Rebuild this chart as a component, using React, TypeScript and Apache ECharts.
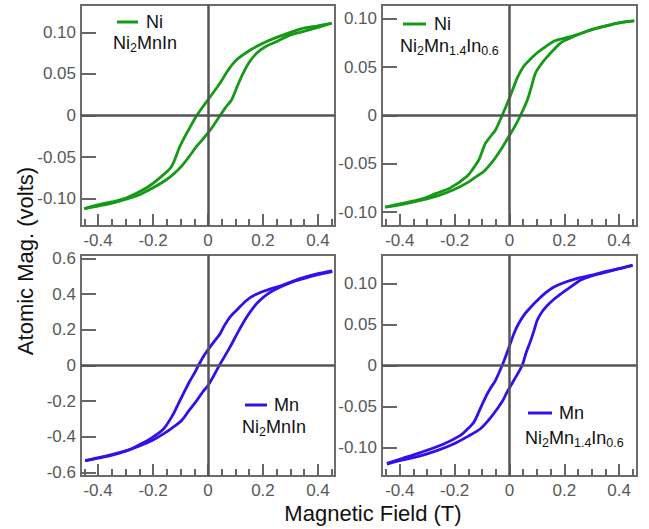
import React, { useEffect, useRef } from "react";
import * as echarts from "echarts";

// Tick values
const xTickValues = [-0.4, -0.2, 0, 0.2, 0.4];
const yTicksSmall = [-0.1, -0.05, 0, 0.05, 0.1];
const yTicksLarge = [-0.6, -0.4, -0.2, 0, 0.2, 0.4, 0.6];

// Panel 1: Ni edge, Ni2MnIn  [field (T), atomic mag (V)]
const niNi2MnInDown = [
  [-0.45, -0.112], [-0.393, -0.107], [-0.35, -0.104], [-0.296, -0.099], [-0.223, -0.087],
  [-0.168, -0.073], [-0.132, -0.061], [-0.102, -0.037], [-0.077, -0.021], [-0.06, -0.011],
  [-0.041, 0], [-0.02, 0.01], [0, 0.019], [0.02, 0.028], [0.044, 0.039], [0.07, 0.053],
  [0.104, 0.067], [0.16, 0.08], [0.213, 0.089], [0.25, 0.094], [0.335, 0.104],
  [0.40, 0.108], [0.45, 0.111],
];
const niNi2MnInUp = [
  [-0.45, -0.112], [-0.40, -0.109], [-0.356, -0.106], [-0.30, -0.101], [-0.247, -0.095],
  [-0.20, -0.087], [-0.15, -0.077], [-0.12, -0.069], [-0.096, -0.061], [-0.07, -0.05],
  [-0.041, -0.037], [-0.02, -0.029], [0, -0.021], [0.02, -0.012], [0.044, 0], [0.065, 0.01],
  [0.086, 0.019], [0.105, 0.034], [0.128, 0.051], [0.15, 0.064], [0.177, 0.075],
  [0.21, 0.083], [0.25, 0.089], [0.30, 0.097], [0.335, 0.100], [0.40, 0.106], [0.45, 0.111],
];

// Panel 2: Ni edge, Ni2Mn1.4In0.6
const niNi2Mn14Down = [
  [-0.453, -0.095], [-0.39, -0.091], [-0.325, -0.087], [-0.27, -0.081], [-0.216, -0.075],
  [-0.155, -0.063], [-0.135, -0.056], [-0.112, -0.046], [-0.088, -0.029], [-0.07, -0.022],
  [-0.051, -0.015], [-0.027, 0], [-0.003, 0.016], [0.016, 0.03], [0.03, 0.04], [0.052, 0.051],
  [0.075, 0.058], [0.101, 0.065], [0.13, 0.071], [0.162, 0.077], [0.20, 0.08], [0.26, 0.085],
  [0.30, 0.089], [0.369, 0.094], [0.40, 0.096], [0.455, 0.098],
];
const niNi2Mn14Up = [
  [-0.453, -0.095], [-0.39, -0.092], [-0.325, -0.088], [-0.26, -0.083], [-0.204, -0.077],
  [-0.15, -0.069], [-0.12, -0.063], [-0.094, -0.058], [-0.06, -0.047], [-0.033, -0.036],
  [-0.003, -0.022], [0.02, -0.011], [0.04, 0], [0.065, 0.016], [0.08, 0.03], [0.095, 0.044],
  [0.115, 0.053], [0.138, 0.061], [0.186, 0.075], [0.22, 0.08], [0.26, 0.085], [0.30, 0.089],
  [0.369, 0.094], [0.40, 0.096], [0.455, 0.098],
];

// Panel 3: Mn edge, Ni2MnIn
const mnNi2MnInDown = [
  [-0.447, -0.534], [-0.393, -0.516], [-0.296, -0.478], [-0.25, -0.445], [-0.211, -0.412],
  [-0.162, -0.356], [-0.126, -0.272], [-0.108, -0.215], [-0.09, -0.159], [-0.065, -0.084],
  [-0.05, -0.045], [-0.035, 0], [-0.015, 0.055], [0.007, 0.103], [0.025, 0.14], [0.044, 0.178],
  [0.06, 0.225], [0.08, 0.272], [0.11, 0.32], [0.141, 0.366], [0.17, 0.395], [0.213, 0.422],
  [0.27, 0.45], [0.335, 0.487], [0.40, 0.515], [0.452, 0.531],
];
const mnNi2MnInUp = [
  [-0.447, -0.534], [-0.40, -0.52], [-0.356, -0.506], [-0.30, -0.48], [-0.247, -0.45],
  [-0.20, -0.418], [-0.162, -0.384], [-0.13, -0.35], [-0.096, -0.309], [-0.07, -0.255],
  [-0.041, -0.197], [-0.02, -0.15], [0, -0.112], [0.02, -0.06], [0.041, 0], [0.06, 0.05],
  [0.08, 0.103], [0.11, 0.19], [0.141, 0.272], [0.165, 0.325], [0.189, 0.366], [0.22, 0.405],
  [0.25, 0.431], [0.30, 0.465], [0.335, 0.482], [0.40, 0.51], [0.452, 0.527],
];

// Panel 4: Mn edge, Ni2Mn1.4In0.6
const mnNi2Mn14Down = [
  [-0.447, -0.119], [-0.39, -0.113], [-0.325, -0.106], [-0.24, -0.0955], [-0.179, -0.085],
  [-0.155, -0.078], [-0.13, -0.069], [-0.11, -0.055], [-0.088, -0.039], [-0.07, -0.028],
  [-0.051, -0.018], [-0.027, 0], [-0.015, 0.01], [-0.002, 0.022], [0.016, 0.0386],
  [0.03, 0.049], [0.052, 0.061], [0.075, 0.07], [0.101, 0.079], [0.13, 0.088],
  [0.162, 0.0955], [0.20, 0.101], [0.247, 0.106], [0.30, 0.11], [0.345, 0.114],
  [0.40, 0.118], [0.449, 0.122],
];
const mnNi2Mn14Up = [
  [-0.447, -0.12], [-0.39, -0.115], [-0.325, -0.11], [-0.26, -0.103], [-0.204, -0.0955],
  [-0.15, -0.086], [-0.106, -0.077], [-0.075, -0.066], [-0.045, -0.053], [-0.025, -0.043],
  [-0.009, -0.0325], [0.016, -0.018], [0.046, 0], [0.06, 0.015], [0.077, 0.03], [0.09, 0.043],
  [0.101, 0.055], [0.12, 0.066], [0.138, 0.073], [0.16, 0.08], [0.186, 0.087], [0.22, 0.095],
  [0.26, 0.104], [0.30, 0.109], [0.345, 0.113], [0.40, 0.118], [0.449, 0.122],
];

const GREEN = "#149a14";
const BLUE = "#3210ee";
const FONT = "'Liberation Sans', Arial, Helvetica, sans-serif";
const AXIS_GRAY = "#666666";
const LABEL_GRAY = "#585858";

const panels = [
  { grid: { left: 81, top: 5, width: 254, height: 221 }, xr: 0.462, yr: 0.133, yTicks: yTicksSmall, dec: 2, color: GREEN, down: niNi2MnInDown, up: niNi2MnInUp },
  { grid: { left: 382, top: 5, width: 255, height: 221 }, xr: 0.465, yr: 0.1145, yTicks: yTicksSmall, dec: 2, color: GREEN, down: niNi2Mn14Down, up: niNi2Mn14Up },
  { grid: { left: 81, top: 255, width: 254, height: 221 }, xr: 0.462, yr: 0.62, yTicks: yTicksLarge, dec: 1, color: BLUE, down: mnNi2MnInDown, up: mnNi2MnInUp },
  { grid: { left: 382, top: 255, width: 255, height: 221 }, xr: 0.465, yr: 0.1345, yTicks: yTicksSmall, dec: 2, color: BLUE, down: mnNi2Mn14Down, up: mnNi2Mn14Up },
];

const fmt = (dec: number) => (v: number) => (Math.abs(v) < 1e-9 ? "0" : v.toFixed(dec));

const richStyles = {
  n: { fontSize: 18, fontFamily: FONT, lineHeight: 22, fill: "#111" },
  s: { fontSize: 12.5, fontFamily: FONT, lineHeight: 12.5, verticalAlign: "bottom", fill: "#111" },
};

function legendItems(lx1: number, ly: number, lx2: number, name: string, nameX: number, formula: string, fx: number, fy: number, color: string) {
  return [
    { type: "line", silent: true, shape: { x1: lx1, y1: ly, x2: lx2, y2: ly }, style: { stroke: color, lineWidth: 3 } },
    { type: "text", silent: true, x: nameX, y: ly, style: { text: name, font: `18px ${FONT}`, fill: "#111", align: "left", verticalAlign: "middle" } },
    { type: "text", silent: true, x: fx, y: fy, style: { text: formula, rich: richStyles, fill: "#111", align: "left", verticalAlign: "middle" } },
  ];
}

export default function App() {
  const ref = useRef<HTMLDivElement>(null);
  useEffect(() => {
    if (!ref.current) return;
    const chart = echarts.init(ref.current, undefined, { renderer: "svg" });
    const grids = panels.map((p) => ({
      ...p.grid,
      show: true,
      borderColor: "#6c6c6c",
      borderWidth: 2,
      backgroundColor: "transparent",
      containLabel: false,
    }));
    const xAxes = panels.map((p, i) => ({
      type: "value",
      gridIndex: i,
      position: "bottom",
      min: -p.xr,
      max: p.xr,
      axisLine: { show: false, onZero: false },
      splitLine: { show: false },
      axisTick: { show: true, inside: true, length: 12, customValues: xTickValues, lineStyle: { color: AXIS_GRAY, width: 2 } },
      minorTick: { show: true, splitNumber: 4, length: 7, lineStyle: { color: AXIS_GRAY, width: 2 } },
      axisLabel: { show: true, margin: 6, customValues: xTickValues, formatter: fmt(1), color: LABEL_GRAY, fontSize: 17, fontFamily: FONT },
    }));
    const yAxes = panels.map((p, i) => ({
      type: "value",
      gridIndex: i,
      position: "left",
      min: -p.yr,
      max: p.yr,
      axisLine: { show: false, onZero: false },
      splitLine: { show: false },
      axisTick: { show: true, inside: true, length: 15, customValues: p.yTicks, lineStyle: { color: AXIS_GRAY, width: 2 } },
      axisLabel: { show: true, margin: 5, customValues: p.yTicks, formatter: fmt(p.dec), color: LABEL_GRAY, fontSize: 17, fontFamily: FONT },
    }));
    const series: any[] = [];
    panels.forEach((p, i) => {
      series.push({
        type: "line",
        xAxisIndex: i,
        yAxisIndex: i,
        data: [],
        silent: true,
        z: 1,
        markLine: {
          silent: true,
          symbol: ["none", "none"],
          label: { show: false },
          lineStyle: { color: "#555555", width: 2.5, type: "solid" },
          emphasis: { disabled: true },
          data: [{ xAxis: 0 }, { yAxis: 0 }],
          animation: false,
        },
      });
      [p.down, p.up].forEach((d) => {
        series.push({
          type: "line",
          xAxisIndex: i,
          yAxisIndex: i,
          data: d,
          showSymbol: false,
          symbol: "none",
          smooth: 0.3,
          silent: true,
          z: 3,
          emphasis: { disabled: true },
          lineStyle: { color: p.color, width: 2.8 },
        });
      });
    });
    const graphic: any[] = [
      ...legendItems(117, 22, 138, "Ni", 146, "{n|Ni}{s|2}{n|MnIn}", 113, 43, GREEN),
      ...legendItems(403, 24, 426, "Ni", 434, "{n|Ni}{s|2}{n|Mn}{s|1.4}{n|In}{s|0.6}", 400, 46, GREEN),
      ...legendItems(245, 405, 267, "Mn", 274, "{n|Ni}{s|2}{n|MnIn}", 242, 427, BLUE),
      ...legendItems(528, 413, 552, "Mn", 559, "{n|Ni}{s|2}{n|Mn}{s|1.4}{n|In}{s|0.6}", 525, 438, BLUE),
      {
        type: "text", silent: true, x: 25, y: 261, rotation: Math.PI / 2,
        style: { text: "Atomic Mag. (volts)", font: `22px ${FONT}`, fill: "#111", align: "center", verticalAlign: "middle" },
      },
      {
        type: "text", silent: true, x: 373, y: 513,
        style: { text: "Magnetic Field (T)", font: `22px ${FONT}`, fill: "#111", align: "center", verticalAlign: "middle" },
      },
    ];
    chart.setOption({
      animation: false,
      backgroundColor: "#ffffff",
      grid: grids,
      xAxis: xAxes,
      yAxis: yAxes,
      series,
      graphic,
    });
    return () => chart.dispose();
  }, []);
  return <div ref={ref} style={{ position: "fixed", left: 0, top: 0, width: 649, height: 529 }} />;
}
